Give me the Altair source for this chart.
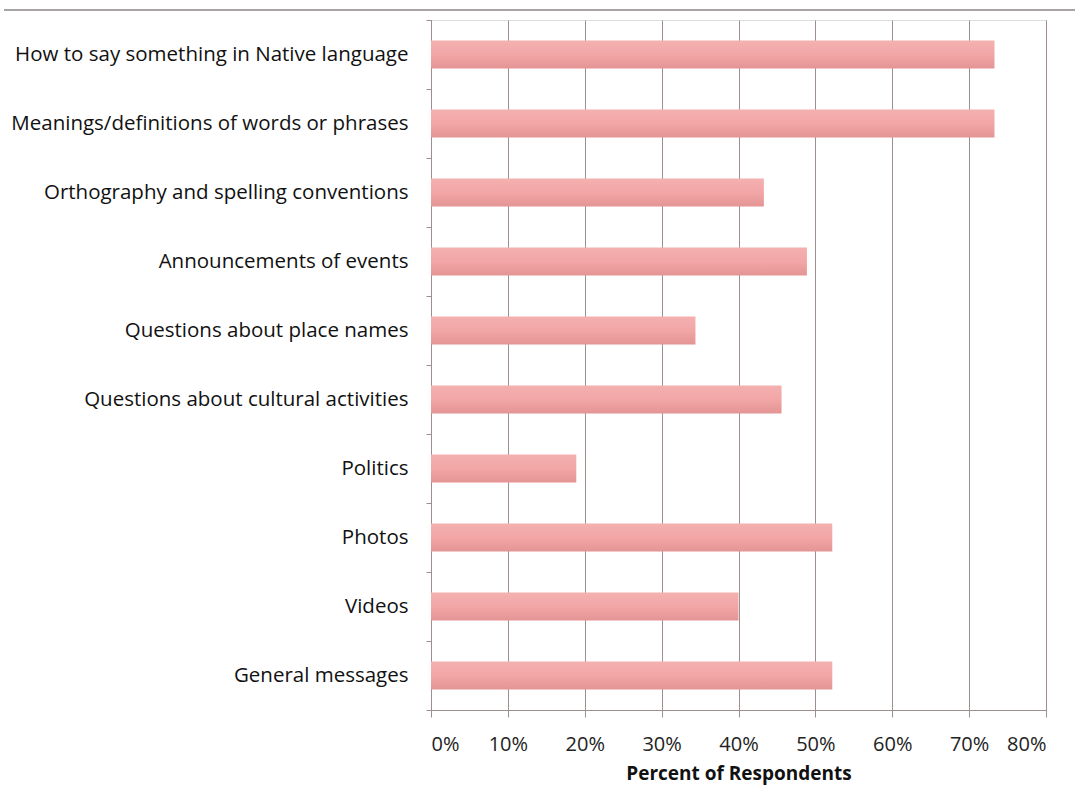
import altair as alt
import pandas as pd

categories = [
    "How to say something in Native language",
    "Meanings/definitions of words or phrases",
    "Orthography and spelling conventions",
    "Announcements of events",
    "Questions about place names",
    "Questions about cultural activities",
    "Politics",
    "Photos",
    "Videos",
    "General messages",
]
percent = [73.3, 73.3, 43.3, 48.9, 34.4, 45.6, 18.9, 52.2, 40.0, 52.2]
x_ticks = [0, 10, 20, 30, 40, 50, 60, 70, 80]

df = pd.DataFrame({"category": categories, "value": [p / 100 for p in percent]})

FONT = "Open Sans"
GRID = "#9c8f8d"

bars = alt.Chart(df).mark_bar(
    height=alt.RelativeBandSize(band=0.405),
    color=alt.Gradient(
        gradient="linear",
        x1=0, y1=0, x2=0, y2=1,
        stops=[
            alt.GradientStop(offset=0, color="#f4b0b0"),
            alt.GradientStop(offset=0.5, color="#f2a6a6"),
            alt.GradientStop(offset=1, color="#e49494"),
        ],
    ),
).encode(
    x=alt.X(
        "value:Q",
        scale=alt.Scale(domain=[0, 0.8], nice=False),
        axis=alt.Axis(
            values=[t / 100 for t in x_ticks],
            format=".0%",
            title="Percent of Respondents",
            titleFont=FONT,
            titleFontSize=19,
            titleFontWeight="bold",
            titleColor="#111111",
            titlePadding=10,
            labelFont=FONT,
            labelFontSize=20,
            labelColor="#222222",
            labelPadding=17,
            tickSize=7,
            tickColor=GRID,
            domainColor=GRID,
            gridColor=GRID,
            grid=True,
        ),
    ),
    y=alt.Y(
        "category:N",
        sort=categories,
        scale=alt.Scale(paddingInner=0, paddingOuter=0),
        axis=alt.Axis(
            title=None,
            labelFont=FONT,
            labelFontSize=20.5,
            labelColor="#111111",
            labelPadding=18,
            tickBand="extent",
            tickSize=5,
            tickColor=GRID,
            domainColor=GRID,
            labelLimit=430,
        ),
    ),
)

top_line = alt.Chart(df).mark_rule(color="#a8a4a4", strokeWidth=1.5).encode(
    x=alt.value(-427), x2=alt.value(644), y=alt.value(-10)
)

chart = alt.layer(bars, top_line).properties(
    width=615,
    height=690,
    autosize=alt.AutoSizeParams(type="none"),
    padding={"left": 431, "top": 20, "right": 29, "bottom": 75},
).configure_view(stroke=None).configure(background="white")

chart.save("out.html", embed_options={"renderer": "svg", "actions": False})
